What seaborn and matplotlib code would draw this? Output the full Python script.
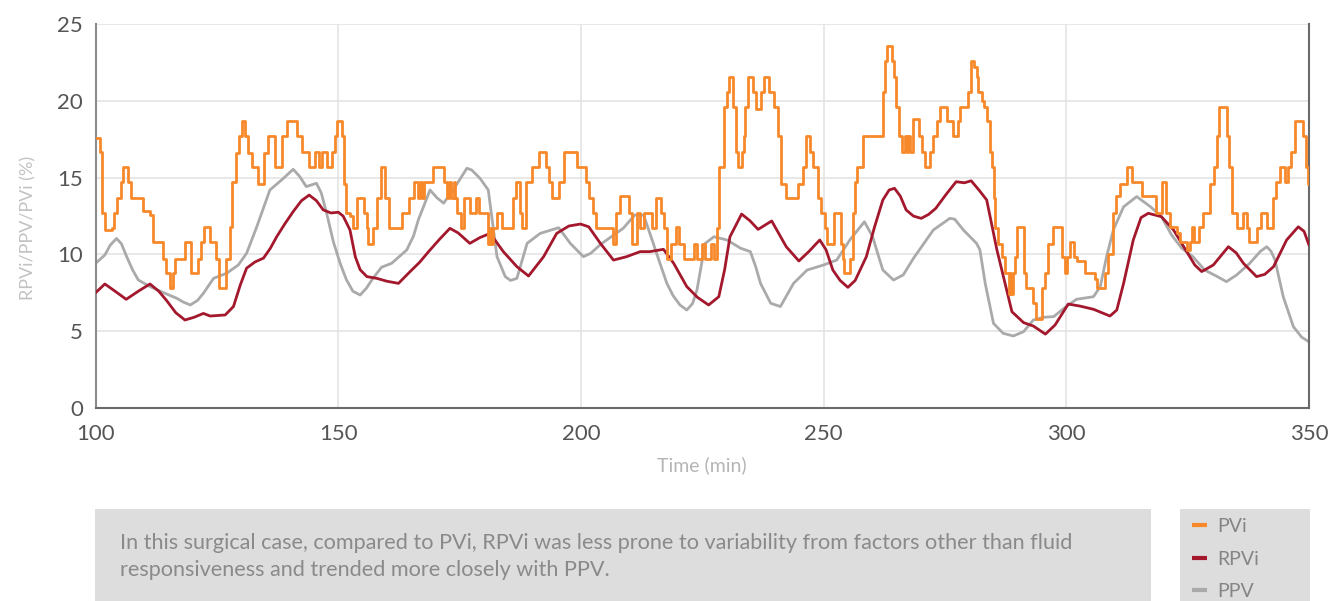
import matplotlib
matplotlib.use("Agg")
import matplotlib.pyplot as plt
from matplotlib.patches import Rectangle
import seaborn as sns

# PVi: stepwise index, each value holds from its start time until the next one
pvi_time = [
    100.0, 100.8, 101.3, 101.9, 103.4, 103.8, 104.5, 105.2, 105.7, 106.7,
    107.2, 109.7, 111.1, 111.8, 113.8, 114.5, 115.3, 115.9, 116.4, 118.5,
    119.6, 121.0, 121.7, 122.3, 123.6, 124.9, 125.5, 126.9, 127.6, 128.2,
    128.9, 129.5, 130.1, 130.8, 131.3, 132.2, 133.5, 134.7, 135.5, 137.0,
    138.5, 139.4, 141.4, 142.5, 143.9, 145.3, 146.0, 146.7, 147.7, 148.8,
    149.4, 149.8, 150.8, 151.1, 151.6, 152.4, 153.1, 153.8, 155.3, 155.9,
    156.2, 157.2, 157.9, 158.7, 159.6, 160.5, 163.1, 164.6, 165.5, 166.5,
    166.9, 167.3, 167.6, 169.6, 171.7, 172.3, 172.8, 173.3, 173.8, 174.1,
    174.4, 175.2, 176.0, 177.1, 178.4, 178.9, 180.9, 181.2, 181.5, 181.8,
    182.6, 183.7, 185.9, 186.6, 187.5, 187.8, 188.7, 189.9, 191.4, 192.8,
    193.5, 194.0, 195.4, 196.5, 199.1, 201.0, 201.7, 202.4, 203.1, 206.5,
    207.2, 208.0, 210.0, 210.5, 211.6, 212.2, 212.9, 214.6, 215.5, 216.4,
    217.1, 217.7, 218.5, 219.6, 220.3, 221.2, 223.3, 224.0, 224.9, 225.6,
    226.7, 227.4, 228.1, 228.5, 229.4, 230.0, 230.4, 231.3, 231.9, 232.4,
    233.1, 233.6, 233.9, 234.5, 235.5, 236.1, 237.0, 237.7, 238.8, 239.7,
    240.6, 241.2, 242.3, 244.7, 245.7, 246.4, 247.1, 247.8, 248.8, 249.5,
    250.2, 250.7, 252.2, 253.6, 253.9, 254.2, 255.4, 256.0, 256.5, 256.9,
    258.2, 262.2, 262.6, 263.1, 264.0, 264.6, 265.0, 265.6, 266.1, 266.8,
    267.1, 267.4, 267.7, 268.5, 269.7, 270.2, 270.9, 271.9, 272.6, 273.3,
    273.9, 275.4, 276.7, 277.6, 278.1, 279.8, 280.3, 280.9, 281.5, 281.9,
    282.6, 283.1, 283.6, 284.2, 284.6, 285.1, 285.4, 286.0, 286.7, 287.4,
    288.1, 288.4, 288.7, 289.0, 289.5, 289.8, 291.2, 291.7, 293.2, 293.8,
    295.0, 295.6, 296.3, 297.2, 299.1, 299.8, 300.2, 300.8, 301.5, 302.2,
    303.9, 305.9, 306.4, 308.0, 308.6, 309.6, 310.3, 311.1, 312.6, 313.5,
    315.6, 318.5, 319.7, 320.6, 321.4, 322.9, 323.4, 324.8, 325.5, 325.8,
    326.3, 327.4, 328.1, 329.6, 330.4, 331.0, 331.5, 333.1, 333.6, 334.1,
    335.1, 336.5, 337.2, 337.7, 339.2, 340.1, 341.3, 342.5, 343.2, 344.1,
    345.1, 345.6, 346.3, 347.1, 348.7, 349.4, 349.9, 350.0,
]
pvi_value = [
    17.6, 16.7, 12.7, 11.6, 11.7, 12.7, 13.7, 14.7, 15.7, 14.7,
    13.7, 12.8, 12.6, 10.8, 9.7, 8.8, 7.8, 8.8, 9.7, 10.8,
    8.8, 9.7, 10.8, 11.8, 10.8, 9.7, 7.8, 9.7, 11.8, 14.7,
    16.6, 17.7, 18.7, 17.7, 16.6, 15.7, 14.6, 16.6, 17.7, 15.7,
    17.7, 18.7, 17.7, 16.7, 15.7, 16.7, 15.7, 16.7, 15.7, 16.7,
    17.7, 18.7, 17.7, 14.6, 12.7, 12.5, 11.7, 13.7, 12.7, 11.7,
    10.7, 11.7, 13.7, 15.7, 13.7, 11.7, 12.7, 13.7, 14.7, 13.7,
    14.7, 13.7, 14.7, 15.7, 14.7, 13.7, 14.7, 13.7, 14.7, 13.7,
    12.7, 11.7, 13.7, 12.7, 13.7, 12.7, 10.7, 11.7, 10.7, 11.7,
    12.7, 11.7, 13.7, 14.7, 12.7, 11.7, 14.7, 15.7, 16.7, 15.7,
    14.7, 13.7, 14.7, 16.7, 15.7, 14.7, 13.7, 12.7, 11.7, 10.7,
    12.7, 13.8, 12.7, 10.7, 12.7, 11.7, 12.7, 11.7, 13.7, 12.7,
    11.7, 9.7, 10.7, 11.8, 10.7, 9.7, 10.7, 9.7, 10.7, 9.7,
    10.7, 9.7, 11.7, 15.7, 19.6, 20.6, 21.6, 19.6, 16.7, 15.7,
    16.7, 17.7, 19.6, 21.6, 20.6, 19.5, 20.6, 21.6, 20.6, 19.6,
    17.7, 14.6, 13.7, 14.6, 15.7, 17.7, 16.7, 15.7, 13.7, 12.7,
    11.7, 10.7, 12.7, 10.7, 9.7, 8.8, 9.7, 12.7, 14.7, 15.7,
    17.7, 20.6, 22.6, 23.6, 22.6, 21.6, 19.6, 17.7, 16.7, 17.7,
    16.7, 17.7, 16.7, 18.8, 17.7, 16.7, 15.7, 16.7, 17.7, 18.7,
    19.6, 18.7, 17.7, 18.7, 19.6, 20.6, 22.6, 22.2, 21.6, 20.6,
    20.0, 19.6, 18.7, 16.7, 15.7, 13.7, 11.7, 10.7, 9.8, 8.8,
    7.4, 8.8, 7.4, 8.8, 9.8, 11.8, 8.8, 7.8, 6.8, 5.8,
    7.8, 8.8, 10.7, 11.8, 9.8, 8.8, 9.8, 10.8, 9.8, 9.6,
    8.8, 8.4, 7.8, 8.8, 10.0, 12.7, 13.8, 14.6, 15.7, 14.7,
    13.8, 12.7, 14.7, 12.7, 11.8, 11.4, 10.8, 10.3, 10.8, 11.8,
    10.8, 11.8, 12.7, 14.6, 15.7, 17.7, 19.6, 17.7, 15.7, 12.7,
    11.7, 12.7, 11.7, 10.8, 11.7, 12.7, 11.7, 13.7, 14.7, 15.7,
    14.7, 15.7, 16.7, 18.7, 17.7, 15.7, 14.6, 14.6,
]

# RPVi: smooth trace
rpvi_time = [
    100.0, 101.9, 104.0, 106.3, 108.8, 111.2, 113.0, 114.6, 116.5, 118.4,
    120.3, 122.2, 123.6, 126.7, 128.4, 129.8, 131.1, 132.8, 134.6, 136.0,
    137.3, 139.0, 140.7, 142.4, 144.0, 145.5, 146.9, 148.5, 150.0, 151.0,
    152.4, 153.5, 154.5, 155.9, 157.9, 160.0, 162.4, 164.8, 166.8, 168.6,
    170.9, 173.0, 174.7, 177.1, 179.2, 181.3, 184.0, 186.8, 189.2, 192.3,
    195.0, 197.5, 199.9, 201.6, 204.0, 206.7, 209.4, 212.2, 214.2, 217.0,
    219.1, 221.8, 224.0, 226.3, 228.4, 229.6, 230.7, 233.1, 234.8, 236.5,
    239.3, 242.3, 244.9, 247.0, 249.2, 250.5, 251.9, 253.4, 255.0, 256.5,
    258.8, 260.5, 262.2, 263.5, 264.6, 265.8, 267.0, 268.5, 270.1, 271.6,
    273.1, 275.2, 277.3, 279.0, 280.4, 282.0, 283.6, 285.7, 287.4, 288.8,
    291.2, 293.2, 295.7, 297.7, 300.4, 302.8, 305.6, 309.0, 310.4, 311.8,
    313.8, 315.4, 316.9, 319.6, 322.1, 324.8, 326.5, 327.9, 330.3, 333.4,
    335.0, 336.5, 339.2, 340.9, 342.7, 345.4, 347.8, 349.0, 350.0,
]
rpvi_value = [
    7.5, 8.07, 7.6, 7.07, 7.6, 8.07, 7.6, 7.0, 6.2, 5.72,
    5.9, 6.15, 5.98, 6.05, 6.6, 8.0, 9.1, 9.5, 9.76, 10.4,
    11.15, 12.0, 12.79, 13.5, 13.87, 13.5, 12.9, 12.7, 12.75, 12.5,
    11.6, 9.85, 9.0, 8.55, 8.44, 8.25, 8.11, 8.88, 9.5, 10.18,
    11.0, 11.7, 11.4, 10.72, 11.1, 11.37, 10.18, 9.2, 8.59, 9.85,
    11.37, 11.85, 11.98, 11.8, 10.72, 9.63, 9.85, 10.18, 10.18, 10.33,
    9.42, 7.9, 7.2, 6.7, 7.24, 9.0, 11.15, 12.63, 12.2, 11.63,
    12.18, 10.5, 9.57, 10.2, 10.94, 10.3, 8.98, 8.3, 7.85, 8.3,
    9.85, 11.8, 13.55, 14.2, 14.31, 13.8, 12.9, 12.5, 12.35, 12.6,
    13.0, 13.9, 14.74, 14.67, 14.8, 14.2, 13.55, 10.3, 8.1, 6.26,
    5.55, 5.33, 4.8, 5.4, 6.76, 6.63, 6.42, 5.98, 6.37, 8.1,
    10.94, 12.4, 12.68, 12.46, 11.59, 10.18, 9.3, 8.88, 9.31, 10.5,
    10.1, 9.42, 8.55, 8.7, 9.2, 10.94, 11.8, 11.5, 10.61,
]

# PPV: smooth trace
ppv_time = [
    100.0, 101.9, 103.0, 104.3, 105.3, 106.4, 107.6, 108.8, 111.2, 114.3,
    116.7, 118.0, 119.5, 121.0, 122.2, 124.3, 127.0, 129.4, 131.1, 133.2,
    135.9, 138.3, 140.7, 142.0, 143.4, 145.5, 146.5, 147.6, 149.0, 150.4,
    151.7, 153.0, 154.5, 155.8, 156.9, 158.9, 161.0, 164.1, 165.5, 166.5,
    168.9, 170.3, 171.7, 174.1, 176.5, 177.5, 179.2, 180.9, 181.8, 182.7,
    184.4, 185.5, 186.8, 188.9, 191.6, 195.4, 197.8, 200.5, 202.0, 203.9,
    205.3, 208.7, 211.1, 212.9, 214.9, 216.3, 217.7, 219.0, 220.4, 221.8,
    223.0, 223.9, 224.8, 225.6, 227.4, 230.1, 232.9, 234.9, 236.0, 237.0,
    239.1, 241.1, 243.8, 246.6, 250.0, 252.7, 255.4, 258.4, 260.1, 261.2,
    262.2, 264.4, 266.4, 268.5, 272.6, 276.0, 277.0, 278.8, 281.5, 282.2,
    283.3, 285.0, 287.0, 289.1, 291.2, 293.2, 295.3, 297.4, 300.1, 302.1,
    305.6, 307.0, 308.3, 309.7, 311.8, 314.5, 317.3, 319.6, 321.7, 323.8,
    326.1, 328.5, 330.9, 333.0, 335.1, 337.8, 340.0, 341.3, 342.2, 343.0,
    344.7, 346.8, 348.5, 350.0,
]
ppv_value = [
    9.42, 9.96, 10.6, 11.04, 10.7, 9.85, 9.0, 8.33, 7.9, 7.46,
    7.14, 6.9, 6.7, 7.0, 7.46, 8.44, 8.77, 9.31, 10.07, 11.8,
    14.2, 14.85, 15.55, 15.1, 14.42, 14.64, 14.0, 12.68, 10.8, 9.4,
    8.33, 7.6, 7.35, 7.8, 8.33, 9.16, 9.42, 10.29, 11.2, 12.26,
    14.2, 13.7, 13.34, 14.42, 15.62, 15.5, 14.96, 14.2, 12.0, 9.85,
    8.55, 8.3, 8.44, 10.72, 11.37, 11.74, 10.72, 9.85, 10.07, 10.61,
    10.94, 11.7, 12.57, 12.57, 10.72, 9.4, 8.11, 7.3, 6.7, 6.37,
    6.8, 7.68, 9.3, 10.72, 11.15, 10.94, 10.4, 10.18, 9.2, 8.11,
    6.81, 6.6, 8.11, 8.98, 9.31, 9.63, 10.94, 12.13, 11.15, 10.0,
    8.98, 8.33, 8.66, 9.74, 11.59, 12.35, 12.3, 11.59, 10.72, 10.3,
    8.1, 5.5, 4.85, 4.68, 4.96, 5.72, 5.9, 5.94, 6.63, 7.07,
    7.24, 7.9, 9.85, 11.6, 13.1, 13.77, 13.12, 12.46, 11.26, 10.4,
    9.85, 8.98, 8.59, 8.22, 8.66, 9.42, 10.2, 10.5, 10.2, 9.63,
    7.24, 5.28, 4.6, 4.3,
]

x_ticks = [100, 150, 200, 250, 300, 350]
y_ticks = [0, 5, 10, 15, 20, 25]
caption_lines = [
    "In this surgical case, compared to PVi, RPVi was less prone to variability from factors other than fluid",
    "responsiveness and trended more closely with PPV.",
]

PVI_COLOR = "#f7892b"
RPVI_COLOR = "#a3182d"
PPV_COLOR = "#aaaaaa"

sns.set_theme(style="white")
plt.rcParams["font.family"] = ["Lato", "DejaVu Sans"]

fig = plt.figure(figsize=(13.32, 6.01), dpi=100)
ax = fig.add_axes([0.0718, 0.3216, 0.9109, 0.6378])

sns.lineplot(x=ppv_time, y=ppv_value, ax=ax, color=PPV_COLOR, linewidth=2.0,
             estimator=None, sort=False, label="PPV", zorder=2)
sns.lineplot(x=rpvi_time, y=rpvi_value, ax=ax, color=RPVI_COLOR, linewidth=2.0,
             estimator=None, sort=False, label="RPVi", zorder=3)
sns.lineplot(x=pvi_time, y=pvi_value, ax=ax, color=PVI_COLOR, linewidth=2.0,
             estimator=None, sort=False, label="PVi", drawstyle="steps-post",
             zorder=4)

ax.set_xlim(100, 350)
ax.set_ylim(0, 25)
ax.set_xticks(x_ticks)
ax.set_yticks(y_ticks)
ax.grid(True, color="#e2e2e2", linewidth=1.1)
ax.set_axisbelow(True)

ax.spines["top"].set_visible(False)
ax.spines["left"].set_color("#8c8c8c")
ax.spines["bottom"].set_color("#6a6a6a")
ax.spines["right"].set_color("#6a6a6a")
for side in ("left", "bottom", "right"):
    ax.spines[side].set_linewidth(1.5)

ax.tick_params(axis="both", length=0, labelsize=16, labelcolor="#555555")
ax.tick_params(axis="x", pad=12)
ax.tick_params(axis="y", pad=9)

ax.set_ylabel("RPVi/PPV/PVi (%)", fontsize=13, color="#c2c2c2")
ax.yaxis.set_label_coords(-0.0485, 0.469)
ax.set_xlabel("Time (min)", fontsize=14, color="#b5b5b5")
ax.xaxis.set_label_coords(0.5, -0.126)

# legend in the right-hand panel, ordered PVi, RPVi, PPV
handles, labels = ax.get_legend_handles_labels()
ax.get_legend().remove()
order = [labels.index(n) for n in ("PVi", "RPVi", "PPV")]
fig.add_artist(Rectangle((1180 / 1332, 0), 130 / 1332, 92 / 601,
                         transform=fig.transFigure, facecolor="#dddddd",
                         edgecolor="none", zorder=0))
leg = fig.legend([handles[i] for i in order], [labels[i] for i in order],
                 loc="upper left", bbox_to_anchor=(1192 / 1332, 1 - 518 / 601),
                 frameon=False, fontsize=14, handlelength=0.78,
                 handletextpad=0.5, labelspacing=0.8, borderpad=0,
                 borderaxespad=0, labelcolor="#858585")
for line in leg.get_lines():
    line.set_linewidth(3.0)
    line.set_solid_capstyle("butt")

# caption panel
fig.add_artist(Rectangle((95.5 / 1332, 0), 1055 / 1332, 92 / 601,
                         transform=fig.transFigure, facecolor="#dddddd",
                         edgecolor="none", zorder=0))
for i, line in enumerate(caption_lines):
    fig.text(120 / 1332, 1 - (543 + 27 * i) / 601, line, fontsize=15.6,
             color="#8a8a8a", va="center", ha="left")

fig.savefig("out.png", dpi=100)
